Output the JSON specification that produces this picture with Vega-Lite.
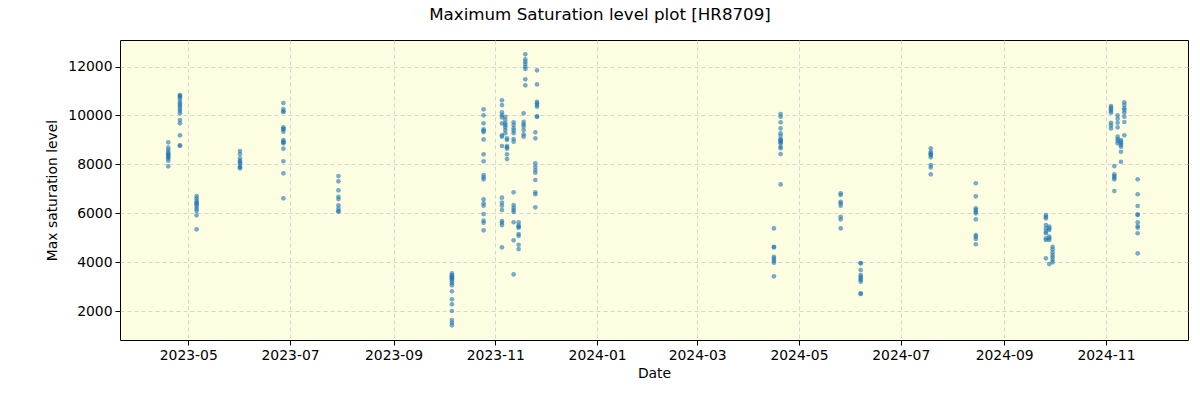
{
  "$schema": "https://vega.github.io/schema/vega-lite/v6.json",
  "autosize": "none",
  "width": 1068,
  "height": 300,
  "padding": {"left": 120, "top": 40, "right": 12, "bottom": 60},
  "background": "white",
  "title": {"text": "Maximum Saturation level plot [HR8709]", "fontSize": 16.7, "font": "DejaVu Sans", "fontWeight": "normal", "color": "black", "anchor": "middle", "dx": -54, "offset": 16},
  "config": {
    "view": {"fill": "#fdfde2", "stroke": "black", "strokeWidth": 1},
    "axis": {"labelFont": "DejaVu Sans", "titleFont": "DejaVu Sans", "labelFontSize": 13.9, "titleFontSize": 13.9, "titleFontWeight": "normal", "labelColor": "black", "titleColor": "black", "tickColor": "black", "domain": false, "gridColor": "#cccccc", "gridDash": [4, 3], "gridWidth": 0.8, "tickSize": 5, "labelPadding": 3}
  },
  "data": {"values": [
    {"d":"2023-04-19","v":8900},{"d":"2023-04-19","v":8680},{"d":"2023-04-19","v":8585},{"d":"2023-04-19","v":8490},{"d":"2023-04-19","v":8420},{"d":"2023-04-19","v":8400},{"d":"2023-04-19","v":8340},{"d":"2023-04-19","v":8300},{"d":"2023-04-19","v":8245},{"d":"2023-04-19","v":8150},{"d":"2023-04-19","v":7920},
    {"d":"2023-04-26","v":10835},{"d":"2023-04-26","v":10800},{"d":"2023-04-26","v":10765},{"d":"2023-04-26","v":10700},{"d":"2023-04-26","v":10590},{"d":"2023-04-26","v":10495},{"d":"2023-04-26","v":10425},{"d":"2023-04-26","v":10355},{"d":"2023-04-26","v":10260},{"d":"2023-04-26","v":10180},{"d":"2023-04-26","v":10085},{"d":"2023-04-26","v":9810},{"d":"2023-04-26","v":9675},{"d":"2023-04-26","v":9185},{"d":"2023-04-26","v":8775},{"d":"2023-04-26","v":8760},
    {"d":"2023-05-06","v":6705},{"d":"2023-05-06","v":6610},{"d":"2023-05-06","v":6510},{"d":"2023-05-06","v":6430},{"d":"2023-05-06","v":6400},{"d":"2023-05-06","v":6350},{"d":"2023-05-06","v":6265},{"d":"2023-05-06","v":6170},{"d":"2023-05-06","v":6090},{"d":"2023-05-06","v":5915},{"d":"2023-05-06","v":5340},
    {"d":"2023-06-01","v":8545},{"d":"2023-06-01","v":8420},{"d":"2023-06-01","v":8245},{"d":"2023-06-01","v":8145},{"d":"2023-06-01","v":8100},{"d":"2023-06-01","v":8040},{"d":"2023-06-01","v":7930},{"d":"2023-06-01","v":7880},{"d":"2023-06-01","v":7835},
    {"d":"2023-06-27","v":10505},{"d":"2023-06-27","v":10260},{"d":"2023-06-27","v":10170},{"d":"2023-06-27","v":10140},{"d":"2023-06-27","v":9515},{"d":"2023-06-27","v":9450},{"d":"2023-06-27","v":9430},{"d":"2023-06-27","v":9335},{"d":"2023-06-27","v":8995},{"d":"2023-06-27","v":8925},{"d":"2023-06-27","v":8900},{"d":"2023-06-27","v":8860},{"d":"2023-06-27","v":8640},{"d":"2023-06-27","v":8125},{"d":"2023-06-27","v":7630},{"d":"2023-06-27","v":6610},
    {"d":"2023-07-30","v":7520},{"d":"2023-07-30","v":7305},{"d":"2023-07-30","v":6935},{"d":"2023-07-30","v":6675},{"d":"2023-07-30","v":6580},{"d":"2023-07-30","v":6325},{"d":"2023-07-30","v":6185},{"d":"2023-07-30","v":6090},{"d":"2023-07-30","v":6060},
    {"d":"2023-10-06","v":3540},{"d":"2023-10-06","v":3460},{"d":"2023-10-06","v":3420},{"d":"2023-10-06","v":3380},{"d":"2023-10-06","v":3340},{"d":"2023-10-06","v":3300},{"d":"2023-10-06","v":3215},{"d":"2023-10-06","v":3135},{"d":"2023-10-06","v":3050},{"d":"2023-10-06","v":2805},{"d":"2023-10-06","v":2480},{"d":"2023-10-06","v":2275},{"d":"2023-10-06","v":2000},{"d":"2023-10-06","v":1630},{"d":"2023-10-06","v":1520},{"d":"2023-10-06","v":1415},
    {"d":"2023-10-25","v":10250},{"d":"2023-10-25","v":10005},{"d":"2023-10-25","v":9675},{"d":"2023-10-25","v":9430},{"d":"2023-10-25","v":9375},{"d":"2023-10-25","v":9320},{"d":"2023-10-25","v":9020},{"d":"2023-10-25","v":8410},{"d":"2023-10-25","v":8125},{"d":"2023-10-25","v":7560},{"d":"2023-10-25","v":7470},{"d":"2023-10-25","v":7385},{"d":"2023-10-25","v":6570},{"d":"2023-10-25","v":6405},{"d":"2023-10-25","v":6305},{"d":"2023-10-25","v":5965},{"d":"2023-10-25","v":5695},{"d":"2023-10-25","v":5610},{"d":"2023-10-25","v":5300},
    {"d":"2023-11-05","v":10620},{"d":"2023-11-05","v":10425},{"d":"2023-11-05","v":10125},{"d":"2023-11-05","v":10015},{"d":"2023-11-05","v":9920},{"d":"2023-11-05","v":9675},{"d":"2023-11-05","v":9185},{"d":"2023-11-05","v":9130},{"d":"2023-11-05","v":8750},{"d":"2023-11-05","v":6635},{"d":"2023-11-05","v":6430},{"d":"2023-11-05","v":6305},{"d":"2023-11-05","v":6130},{"d":"2023-11-05","v":5680},{"d":"2023-11-05","v":5610},{"d":"2023-11-05","v":5515},{"d":"2023-11-05","v":4605},
    {"d":"2023-11-07","v":9945},{"d":"2023-11-07","v":9810},{"d":"2023-11-07","v":9675},{"d":"2023-11-07","v":9600},{"d":"2023-11-07","v":9515},{"d":"2023-11-07","v":9405},{"d":"2023-11-07","v":9270},
    {"d":"2023-11-08","v":9065},{"d":"2023-11-08","v":8995},{"d":"2023-11-08","v":8750},{"d":"2023-11-08","v":8695},{"d":"2023-11-08","v":8640},{"d":"2023-11-08","v":8410},{"d":"2023-11-08","v":8215},
    {"d":"2023-11-12","v":9720},{"d":"2023-11-12","v":9605},{"d":"2023-11-12","v":9470},{"d":"2023-11-12","v":9375},{"d":"2023-11-12","v":9270},{"d":"2023-11-12","v":9035},{"d":"2023-11-12","v":8925},{"d":"2023-11-12","v":6855},{"d":"2023-11-12","v":6335},{"d":"2023-11-12","v":6225},{"d":"2023-11-12","v":6130},{"d":"2023-11-12","v":6050},{"d":"2023-11-12","v":5630},{"d":"2023-11-12","v":4890},{"d":"2023-11-12","v":3500},
    {"d":"2023-11-15","v":5630},{"d":"2023-11-15","v":5490},{"d":"2023-11-15","v":5450},{"d":"2023-11-15","v":5405},{"d":"2023-11-15","v":5150},{"d":"2023-11-15","v":5070},{"d":"2023-11-15","v":4710},{"d":"2023-11-15","v":4535},
    {"d":"2023-11-18","v":10085},{"d":"2023-11-18","v":9740},{"d":"2023-11-18","v":9635},{"d":"2023-11-18","v":9550},{"d":"2023-11-18","v":9405},{"d":"2023-11-18","v":9225},{"d":"2023-11-18","v":9130},
    {"d":"2023-11-19","v":12500},{"d":"2023-11-19","v":12295},{"d":"2023-11-19","v":12195},{"d":"2023-11-19","v":12100},{"d":"2023-11-19","v":11990},{"d":"2023-11-19","v":11900},{"d":"2023-11-19","v":11475},{"d":"2023-11-19","v":11230},
    {"d":"2023-11-25","v":9310},{"d":"2023-11-25","v":9065},{"d":"2023-11-25","v":8040},{"d":"2023-11-25","v":7900},{"d":"2023-11-25","v":7765},{"d":"2023-11-25","v":7655},{"d":"2023-11-25","v":7360},{"d":"2023-11-25","v":6855},{"d":"2023-11-25","v":6775},{"d":"2023-11-25","v":6240},
    {"d":"2023-11-26","v":11845},{"d":"2023-11-26","v":11270},{"d":"2023-11-26","v":10560},{"d":"2023-11-26","v":10495},{"d":"2023-11-26","v":10425},{"d":"2023-11-26","v":10355},{"d":"2023-11-26","v":9960},{"d":"2023-11-26","v":9945},
    {"d":"2024-04-16","v":5380},{"d":"2024-04-16","v":4630},{"d":"2024-04-16","v":4600},{"d":"2024-04-16","v":4220},{"d":"2024-04-16","v":4140},{"d":"2024-04-16","v":4060},{"d":"2024-04-16","v":3975},{"d":"2024-04-16","v":3420},
    {"d":"2024-04-20","v":10055},{"d":"2024-04-20","v":9945},{"d":"2024-04-20","v":9720},{"d":"2024-04-20","v":9470},{"d":"2024-04-20","v":9270},{"d":"2024-04-20","v":9170},{"d":"2024-04-20","v":9020},{"d":"2024-04-20","v":9000},{"d":"2024-04-20","v":8955},{"d":"2024-04-20","v":8900},{"d":"2024-04-20","v":8860},{"d":"2024-04-20","v":8720},{"d":"2024-04-20","v":8655},{"d":"2024-04-20","v":8420},{"d":"2024-04-20","v":7180},
    {"d":"2024-05-26","v":6815},{"d":"2024-05-26","v":6745},{"d":"2024-05-26","v":6470},{"d":"2024-05-26","v":6405},{"d":"2024-05-26","v":6305},{"d":"2024-05-26","v":5855},{"d":"2024-05-26","v":5750},{"d":"2024-05-26","v":5380},
    {"d":"2024-06-07","v":3965},{"d":"2024-06-07","v":3950},{"d":"2024-06-07","v":3675},{"d":"2024-06-07","v":3470},{"d":"2024-06-07","v":3405},{"d":"2024-06-07","v":3335},{"d":"2024-06-07","v":3270},{"d":"2024-06-07","v":3200},{"d":"2024-06-07","v":2725},{"d":"2024-06-07","v":2700},
    {"d":"2024-07-19","v":8655},{"d":"2024-07-19","v":8515},{"d":"2024-07-19","v":8450},{"d":"2024-07-19","v":8400},{"d":"2024-07-19","v":8380},{"d":"2024-07-19","v":8285},{"d":"2024-07-19","v":7970},{"d":"2024-07-19","v":7875},{"d":"2024-07-19","v":7590},
    {"d":"2024-08-15","v":7225},{"d":"2024-08-15","v":6690},{"d":"2024-08-15","v":6200},{"d":"2024-08-15","v":6130},{"d":"2024-08-15","v":6060},{"d":"2024-08-15","v":5995},{"d":"2024-08-15","v":5750},{"d":"2024-08-15","v":5110},{"d":"2024-08-15","v":5040},{"d":"2024-08-15","v":4945},{"d":"2024-08-15","v":4730},
    {"d":"2024-09-26","v":5925},{"d":"2024-09-26","v":5855},{"d":"2024-09-26","v":5790},{"d":"2024-09-26","v":5515},{"d":"2024-09-26","v":5380},{"d":"2024-09-26","v":5245},{"d":"2024-09-26","v":5180},{"d":"2024-09-26","v":4975},{"d":"2024-09-26","v":4905},{"d":"2024-09-26","v":4155},
    {"d":"2024-09-28","v":5450},{"d":"2024-09-28","v":5380},{"d":"2024-09-28","v":5315},{"d":"2024-09-28","v":5040},{"d":"2024-09-28","v":4975},{"d":"2024-09-28","v":4905},{"d":"2024-09-28","v":3920},
    {"d":"2024-09-30","v":4630},{"d":"2024-09-30","v":4525},{"d":"2024-09-30","v":4400},{"d":"2024-09-30","v":4290},{"d":"2024-09-30","v":4195},{"d":"2024-09-30","v":4085},{"d":"2024-09-30","v":3990},
    {"d":"2024-11-04","v":10385},{"d":"2024-11-04","v":10315},{"d":"2024-11-04","v":10250},{"d":"2024-11-04","v":10180},{"d":"2024-11-04","v":10110},{"d":"2024-11-04","v":9700},{"d":"2024-11-04","v":9595},{"d":"2024-11-04","v":9470},
    {"d":"2024-11-06","v":7930},{"d":"2024-11-06","v":7590},{"d":"2024-11-06","v":7520},{"d":"2024-11-06","v":7450},{"d":"2024-11-06","v":7385},{"d":"2024-11-06","v":6910},
    {"d":"2024-11-08","v":10005},{"d":"2024-11-08","v":9865},{"d":"2024-11-08","v":9700},{"d":"2024-11-08","v":9515},{"d":"2024-11-08","v":9130},{"d":"2024-11-08","v":9035},{"d":"2024-11-08","v":8955},{"d":"2024-11-08","v":8860},
    {"d":"2024-11-10","v":8995},{"d":"2024-11-10","v":8925},{"d":"2024-11-10","v":8860},{"d":"2024-11-10","v":8790},{"d":"2024-11-10","v":8720},{"d":"2024-11-10","v":8515},{"d":"2024-11-10","v":8105},
    {"d":"2024-11-12","v":10535},{"d":"2024-11-12","v":10425},{"d":"2024-11-12","v":10290},{"d":"2024-11-12","v":10220},{"d":"2024-11-12","v":10110},{"d":"2024-11-12","v":9945},{"d":"2024-11-12","v":9730},{"d":"2024-11-12","v":9185},
    {"d":"2024-11-20","v":7385},{"d":"2024-11-20","v":6775},{"d":"2024-11-20","v":6295},{"d":"2024-11-20","v":5955},{"d":"2024-11-20","v":5925},{"d":"2024-11-20","v":5630},{"d":"2024-11-20","v":5475},{"d":"2024-11-20","v":5405},{"d":"2024-11-20","v":5180},{"d":"2024-11-20","v":4360}
  ]},
  "mark": {"type": "circle", "size": 22, "color": "#1f77b4", "opacity": 0.6},
  "encoding": {
    "x": {
      "field": "d", "type": "temporal", "title": "Date",
      "scale": {"type": "utc", "domain": [{"year": 2023, "month": 3, "date": 21, "hours": 2, "utc": true}, {"year": 2024, "month": 12, "date": 20, "hours": 4, "utc": true}]},
      "axis": {"format": "%Y-%m", "titlePadding": 5,
        "values": [
          {"year": 2023, "month": 5, "date": 1, "utc": true},
          {"year": 2023, "month": 7, "date": 1, "utc": true},
          {"year": 2023, "month": 9, "date": 1, "utc": true},
          {"year": 2023, "month": 11, "date": 1, "utc": true},
          {"year": 2024, "month": 1, "date": 1, "utc": true},
          {"year": 2024, "month": 3, "date": 1, "utc": true},
          {"year": 2024, "month": 5, "date": 1, "utc": true},
          {"year": 2024, "month": 7, "date": 1, "utc": true},
          {"year": 2024, "month": 9, "date": 1, "utc": true},
          {"year": 2024, "month": 11, "date": 1, "utc": true}
        ]}
    },
    "y": {
      "field": "v", "type": "quantitative", "title": "Max saturation level",
      "scale": {"domain": [815, 13085], "nice": false, "zero": false},
      "axis": {"values": [2000, 4000, 6000, 8000, 10000, 12000], "format": "d", "titlePadding": 8}
    }
  }
}
